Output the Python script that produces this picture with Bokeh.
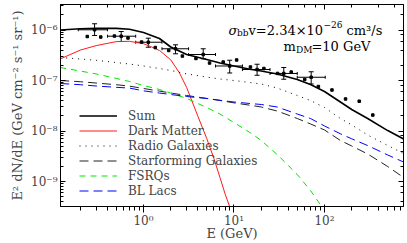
from bokeh.plotting import figure
from bokeh.models import (Range1d, LogAxis, CustomJSTickFormatter, Legend, LegendItem,
                          Whisker, TeeHead, ColumnDataSource, Label)
from bokeh.embed import file_html
from bokeh.resources import INLINE

# ---------------- data ----------------
energy = [0.12, 0.2, 0.3, 0.5, 0.7, 1, 1.5, 2, 3, 5, 7, 10, 15, 20, 30, 50, 70, 100, 150, 200, 300, 500, 750]
sum_flux = [1.00e-6, 1.056e-6, 1.081e-6, 1.076e-6, 1.037e-6, 8.91e-7, 6.79e-7, 4.61e-7, 3.27e-7, 2.61e-7,
            2.22e-7, 1.94e-7, 1.67e-7, 1.54e-7, 1.35e-7, 1.05e-7, 8.34e-8, 6.06e-8, 3.75e-8, 2.67e-8,
            1.77e-8, 1.02e-8, 6.95e-9]
radio_flux = [2.85e-7, 2.67e-7, 2.51e-7, 2.27e-7, 2.12e-7, 1.94e-7, 1.73e-7, 1.58e-7, 1.35e-7, 1.17e-7,
              1.07e-7, 1.0e-7, 9.13e-8, 8.53e-8, 7.10e-8, 5.05e-8, 4.02e-8, 2.92e-8, 1.77e-8, 1.32e-8,
              8.34e-9, 5.16e-9, 3.58e-9]
sf_flux = [1.00e-7, 9.46e-8, 8.91e-8, 8.26e-8, 7.74e-8, 6.95e-8, 6.17e-8, 5.65e-8, 5.05e-8, 4.41e-8,
           4.02e-8, 3.61e-8, 3.24e-8, 2.99e-8, 2.49e-8, 1.77e-8, 1.38e-8, 1.05e-8, 6.49e-9, 5.05e-9,
           3.51e-9, 1.98e-9, 1.20e-9]
bllac_flux = [8.73e-8, 8.26e-8, 7.78e-8, 7.33e-8, 7.08e-8, 6.25e-8, 5.65e-8, 5.28e-8, 4.82e-8, 4.41e-8,
              4.06e-8, 3.75e-8, 3.51e-8, 3.35e-8, 2.99e-8, 2.17e-8, 1.77e-8, 1.26e-8, 8.81e-9, 7.01e-9,
              5.16e-9, 3.35e-9, 2.43e-9]
fsrq_energy = [0.12, 0.2, 0.3, 0.5, 0.7, 1, 1.5, 2, 3, 5, 7, 10, 15, 20, 30, 50, 70, 100]
fsrq_flux = [1.81e-7, 1.54e-7, 1.35e-7, 1.10e-7, 9.55e-8, 7.96e-8, 6.64e-8, 5.65e-8, 4.41e-8, 2.92e-8,
             2.17e-8, 1.47e-8, 9.33e-9, 6.49e-9, 3.43e-9, 1.38e-9, 6.64e-10, 2.67e-10]
dm_energy = [0.12, 0.2, 0.3, 0.5, 0.7, 1, 1.2, 1.5, 2, 2.5, 3, 4, 5, 6, 7, 8, 9, 9.5, 9.9]
dm_flux = [2.67e-7, 4.00e-7, 4.91e-7, 5.89e-7, 5.97e-7, 5.36e-7, 4.71e-7, 3.94e-7, 2.57e-7, 1.41e-7,
           7.26e-8, 1.94e-8, 7.10e-9, 2.85e-9, 1.20e-9, 5.6e-10, 3.1e-10, 2.2e-10, 1.5e-10]

# binned data with error bars
bin_lo = [0.19, 0.40, 0.82, 1.6, 3.15, 6.25, 12.4, 25, 50]
bin_hi = [0.40, 0.82, 1.6, 3.15, 6.25, 12.4, 25, 50, 102]
bin_center = [0.288, 0.567, 1.13, 2.26, 4.57, 8.97, 18.0, 35.5, 71.3]
bin_flux = [1.01e-6, 7.54e-7, 5.73e-7, 4.25e-7, 3.27e-7, 1.94e-7, 1.65e-7, 1.38e-7, 1.16e-7]
bin_upper = [1.33e-6, 9.33e-7, 6.89e-7, 5.09e-7, 4.25e-7, 2.52e-7, 2.10e-7, 1.81e-7, 1.49e-7]
bin_lower = [7.78e-7, 5.92e-7, 4.56e-7, 3.38e-7, 2.69e-7, 1.41e-7, 1.27e-7, 1.06e-7, 8.53e-8]

# finely binned points
dot_energy = [0.239, 0.337, 0.477, 0.674, 0.953, 1.35, 1.90, 2.69, 3.80, 5.37, 7.60, 10.7, 15.2, 21.4,
              30.3, 42.9, 60.5, 85.6, 121, 171, 242, 342]
dot_flux = [7.43e-7, 7.26e-7, 7.60e-7, 6.95e-7, 5.78e-7, 4.50e-7, 3.93e-7, 3.05e-7, 2.73e-7, 2.22e-7,
            2.32e-7, 2.55e-7, 1.85e-7, 1.73e-7, 1.38e-7, 1.47e-7, 1.05e-7, 7.60e-8, 6.49e-8, 4.31e-8,
            3.89e-8, 2.07e-8]

legend_labels = ["Sum", "Dark Matter", "Radio Galaxies", "Starforming Galaxies", "FSRQs", "BL Lacs"]

FONT = "DejaVu Serif"

p = figure(width=407, height=243, x_axis_type="log", y_axis_type="log",
           x_range=Range1d(0.121, 747), y_range=Range1d(3.2e-10, 3.2e-6),
           output_backend="svg", toolbar_location=None,
           min_border_left=60, min_border_right=4, min_border_top=4, min_border_bottom=35)
p.grid.visible = False
p.outline_line_color = "black"
p.outline_line_width = 1
p.background_fill_color = "white"
p.border_fill_color = "white"

sup_code = """
const e = Math.round(Math.log10(tick));
const sup = {"-":"\\u207b","0":"\\u2070","1":"\\u00b9","2":"\\u00b2","3":"\\u00b3","4":"\\u2074","5":"\\u2075","6":"\\u2076","7":"\\u2077","8":"\\u2078","9":"\\u2079"};
return "10" + String(e).split("").map(c => sup[c]).join("");
"""
fmt = CustomJSTickFormatter(code=sup_code)
for ax in [p.xaxis[0], p.yaxis[0]]:
    ax.formatter = fmt
    ax.major_label_text_font = FONT
    ax.major_label_text_font_size = "12px"
    ax.major_label_text_line_height = 1.0
    ax.axis_label_text_font = FONT
    ax.axis_label_text_font_size = "13px"
    ax.axis_label_text_line_height = 1.0
    ax.axis_label_text_font_style = "normal"

p.xaxis.axis_label = "E (GeV)"
p.xaxis.major_label_standoff = 1
p.xaxis.axis_label_standoff = -5
p.yaxis.axis_label = "E\u00b2 dN/dE (GeV cm\u207b\u00b2 s\u207b\u00b9 sr\u207b\u00b9)"
p.yaxis.axis_label_standoff = 3
p.yaxis.major_label_standoff = 3

top_axis = LogAxis(major_label_text_alpha=0, major_label_standoff=0,
                   major_label_text_font_size="1px")
right_axis = LogAxis(major_label_text_alpha=0, major_label_standoff=0,
                     major_label_text_font_size="1px")
p.add_layout(top_axis, "above")
p.add_layout(right_axis, "right")

for ax in [p.xaxis[0], p.yaxis[0], top_axis, right_axis]:
    ax.major_tick_in = 5
    ax.major_tick_out = 0
    ax.minor_tick_in = 3
    ax.minor_tick_out = 0
    ax.axis_line_color = "black"
    ax.major_tick_line_color = "black"
    ax.minor_tick_line_color = "black"

r_sum = p.line(energy, sum_flux, line_color="black", line_width=1.6)
r_dm = p.line(dm_energy, dm_flux, line_color="#ff1a1a", line_width=1)
r_radio = p.line(energy, radio_flux, line_color="black", line_width=1, line_dash="1 5")
r_sf = p.line(energy, sf_flux, line_color="#222222", line_width=1, line_dash="9 5")
r_fsrq = p.line(fsrq_energy, fsrq_flux, line_color="#00e600", line_width=1, line_dash="6 5")
r_bl = p.line(energy, bllac_flux, line_color="#0000ff", line_width=1, line_dash="9 5")

# error bars
src = ColumnDataSource(dict(x=bin_center, y=bin_flux, lo=bin_lower, hi=bin_upper,
                            xlo=bin_lo, xhi=bin_hi))
vw = Whisker(base="x", lower="lo", upper="hi", source=src, dimension="height",
             line_color="black", line_width=1,
             upper_head=TeeHead(size=5, line_color="black", line_width=1),
             lower_head=TeeHead(size=5, line_color="black", line_width=1))
hw = Whisker(base="y", lower="xlo", upper="xhi", source=src, dimension="width",
             line_color="black", line_width=1,
             upper_head=TeeHead(size=3, line_color="black", line_width=1),
             lower_head=TeeHead(size=3, line_color="black", line_width=1))
p.add_layout(vw)
p.add_layout(hw)
p.scatter(bin_center, bin_flux, size=2.5, marker="square", color="black")
p.scatter(dot_energy, dot_flux, size=2.5, marker="square", color="black")

legend = Legend(items=[LegendItem(label=l, renderers=[r]) for l, r in
                       zip(legend_labels, [r_sum, r_dm, r_radio, r_sf, r_fsrq, r_bl])],
                location=(19, 8), glyph_width=38, glyph_height=15, label_height=15,
                spacing=0, padding=0, margin=0, label_standoff=11,
                label_text_font=FONT, label_text_font_size="12px",
                border_line_alpha=0, background_fill_alpha=0)
p.add_layout(legend)

# annotation text
def add_text(x, y, text, dx, dy, size, style="normal"):
    p.add_layout(Label(x=x, y=y, x_offset=dx, y_offset=dy, text=text, text_font=FONT,
                       text_font_size=size, text_font_style=style, text_baseline="alphabetic",
                       text_align="left", text_color="black"))

ax1, ay1 = 8.7, 9.9e-7
add_text(ax1, ay1, "\u03c3", 0, 0, "13px", "italic")
add_text(ax1, ay1, "bb", 8.5, -3, "9px")
add_text(ax1, ay1, "v=2.34\u00d710", 20, 0, "13px")
add_text(ax1, ay1, "\u221226", 95, 6, "9px")
add_text(ax1, ay1, "cm\u00b3/s", 118, 0, "13px")

ax2, ay2 = 35.2, 4.66e-7
add_text(ax2, ay2, "m", 0, 0, "13px")
add_text(ax2, ay2, "DM", 12.5, -3, "9px")
add_text(ax2, ay2, "=10 GeV", 28, 0, "13px")

open("out.html", "w").write(file_html(p, INLINE))
